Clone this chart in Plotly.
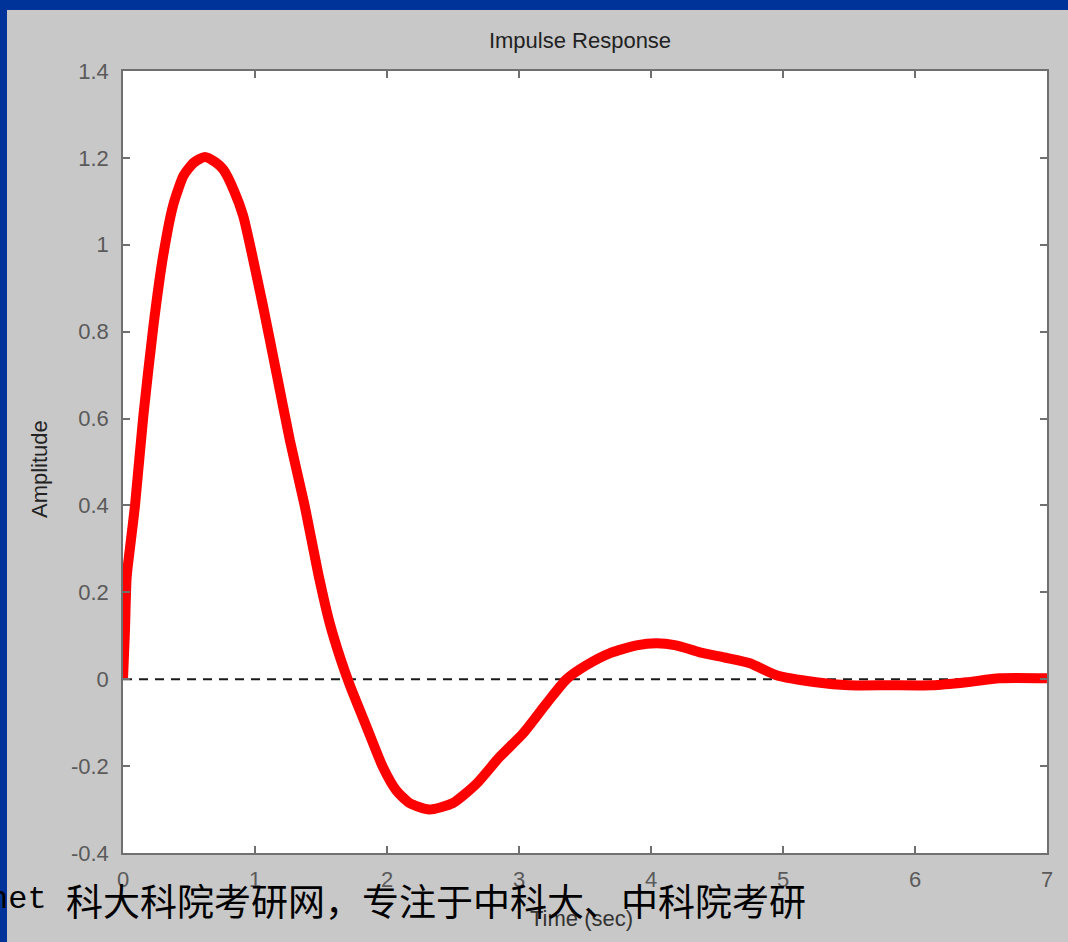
import plotly.graph_objects as go

# ---- data ----
time_s = [0, 0.015, 0.028, 0.06, 0.091, 0.154, 0.23, 0.305, 0.38, 0.46, 0.54, 0.62,
          0.70, 0.76, 0.84, 0.91, 1.062, 1.163, 1.264, 1.378, 1.479, 1.567, 1.65, 1.72,
          1.846, 1.97, 2.07, 2.17, 2.32, 2.50, 2.68, 2.85, 3.03, 3.21, 3.36, 3.51,
          3.69, 3.89, 4.04, 4.19, 4.37, 4.56, 4.75, 4.95, 5.25, 5.5, 5.8, 6.13,
          6.39, 6.64, 7.0]
amplitude = [0, 0.113, 0.236, 0.32, 0.40, 0.606, 0.812, 0.976, 1.091, 1.16, 1.19, 1.202,
             1.19, 1.173, 1.125, 1.067, 0.857, 0.704, 0.55, 0.397, 0.243, 0.128, 0.045, -0.015,
             -0.11, -0.203, -0.256, -0.285, -0.30, -0.285, -0.24, -0.18, -0.125, -0.055, 0.0, 0.032,
             0.06, 0.078, 0.083, 0.078, 0.062, 0.05, 0.037, 0.009, -0.007, -0.014, -0.014, -0.014,
             -0.007, 0.002, 0.002]
ref_x = [0, 7]
ref_y = [0, 0]
x_ticks = [0, 1, 2, 3, 4, 5, 6, 7]
y_ticks = [-0.4, -0.2, 0, 0.2, 0.4, 0.6, 0.8, 1.0, 1.2, 1.4]
y_tick_text = ["-0.4", "-0.2", "0", "0.2", "0.4", "0.6", "0.8", "1", "1.2", "1.4"]
title_text = "Impulse Response"
x_title = "Time (sec)"
y_title = "Amplitude"
overlay_latin = "net"
overlay_cjk = "科大科院考研网，专注于中科大、中科院考研"

W, H = 1068, 942
L, R, T, B = 123, 1047, 71, 853
pw, ph = R - L, B - T

def px(p):
    return (p - L) / pw

def py(p):
    return (B - p) / ph

fig = go.Figure()
fig.add_trace(go.Scatter(x=ref_x, y=ref_y, mode="lines",
                         line=dict(color="#1a1a1a", width=2, dash="9px,7px"),
                         hoverinfo="skip", showlegend=False))
fig.add_trace(go.Scatter(x=time_s, y=amplitude, mode="lines",
                         line=dict(color="#ff0000", width=10, shape="spline", smoothing=0.6),
                         showlegend=False))

axis_common = dict(showgrid=False, zeroline=False, showline=True, mirror="ticks",
                   linecolor="#707070", linewidth=1.5, ticks="inside", ticklen=7,
                   tickcolor="#707070", tickwidth=1.5,
                   tickfont=dict(family="Liberation Sans, Arial, sans-serif", size=22, color="#5a5a5a"))

fig.update_xaxes(range=[0, 7], tickmode="array", tickvals=x_ticks,
                 ticklabelstandoff=6, **axis_common)
fig.update_yaxes(range=[-0.4, 1.4], tickmode="array", tickvals=y_ticks, ticktext=y_tick_text,
                 ticklabelstandoff=8, **axis_common)

shapes = [
    dict(type="rect", xref="paper", yref="paper", x0=px(-5), x1=px(7), y0=py(H + 5), y1=py(-5),
         fillcolor="#003399", line=dict(width=0), layer="above"),
    dict(type="rect", xref="paper", yref="paper", x0=px(-5), x1=px(W + 5), y0=py(10), y1=py(-5),
         fillcolor="#003399", line=dict(width=0), layer="above"),
]

annotations = [
    dict(text=y_title, xref="paper", yref="paper", x=px(39), y=py(469), textangle=-90,
         showarrow=False, xanchor="center", yanchor="middle",
         font=dict(family="Liberation Sans, Arial, sans-serif", size=22, color="#222222")),
    dict(text=x_title, xref="paper", yref="paper", x=px(581), y=py(918),
         showarrow=False, xanchor="center", yanchor="middle",
         font=dict(family="Liberation Sans, Arial, sans-serif", size=22, color="#333333")),
    dict(text=overlay_latin, xref="paper", yref="paper", x=px(-13), y=py(899),
         showarrow=False, xanchor="left", yanchor="middle",
         font=dict(family="Liberation Mono, DejaVu Sans Mono, monospace", size=32, color="#000000")),
    dict(text=overlay_cjk, xref="paper", yref="paper", x=px(64), y=py(900),
         showarrow=False, xanchor="left", yanchor="middle",
         font=dict(family="Noto Sans CJK SC, sans-serif", size=37, color="#000000")),
]

fig.update_layout(
    width=W, height=H,
    margin=dict(l=L, r=W - R, t=T, b=H - B, pad=0),
    paper_bgcolor="#c8c8c8", plot_bgcolor="#ffffff",
    title=dict(text=title_text, x=580 / W, xref="container",
               y=1 - 40 / H, yref="container", xanchor="center", yanchor="middle",
               font=dict(family="Liberation Sans, Arial, sans-serif", size=22, color="#222222")),
    shapes=shapes, annotations=annotations,
)

fig.write_html("out.html")
